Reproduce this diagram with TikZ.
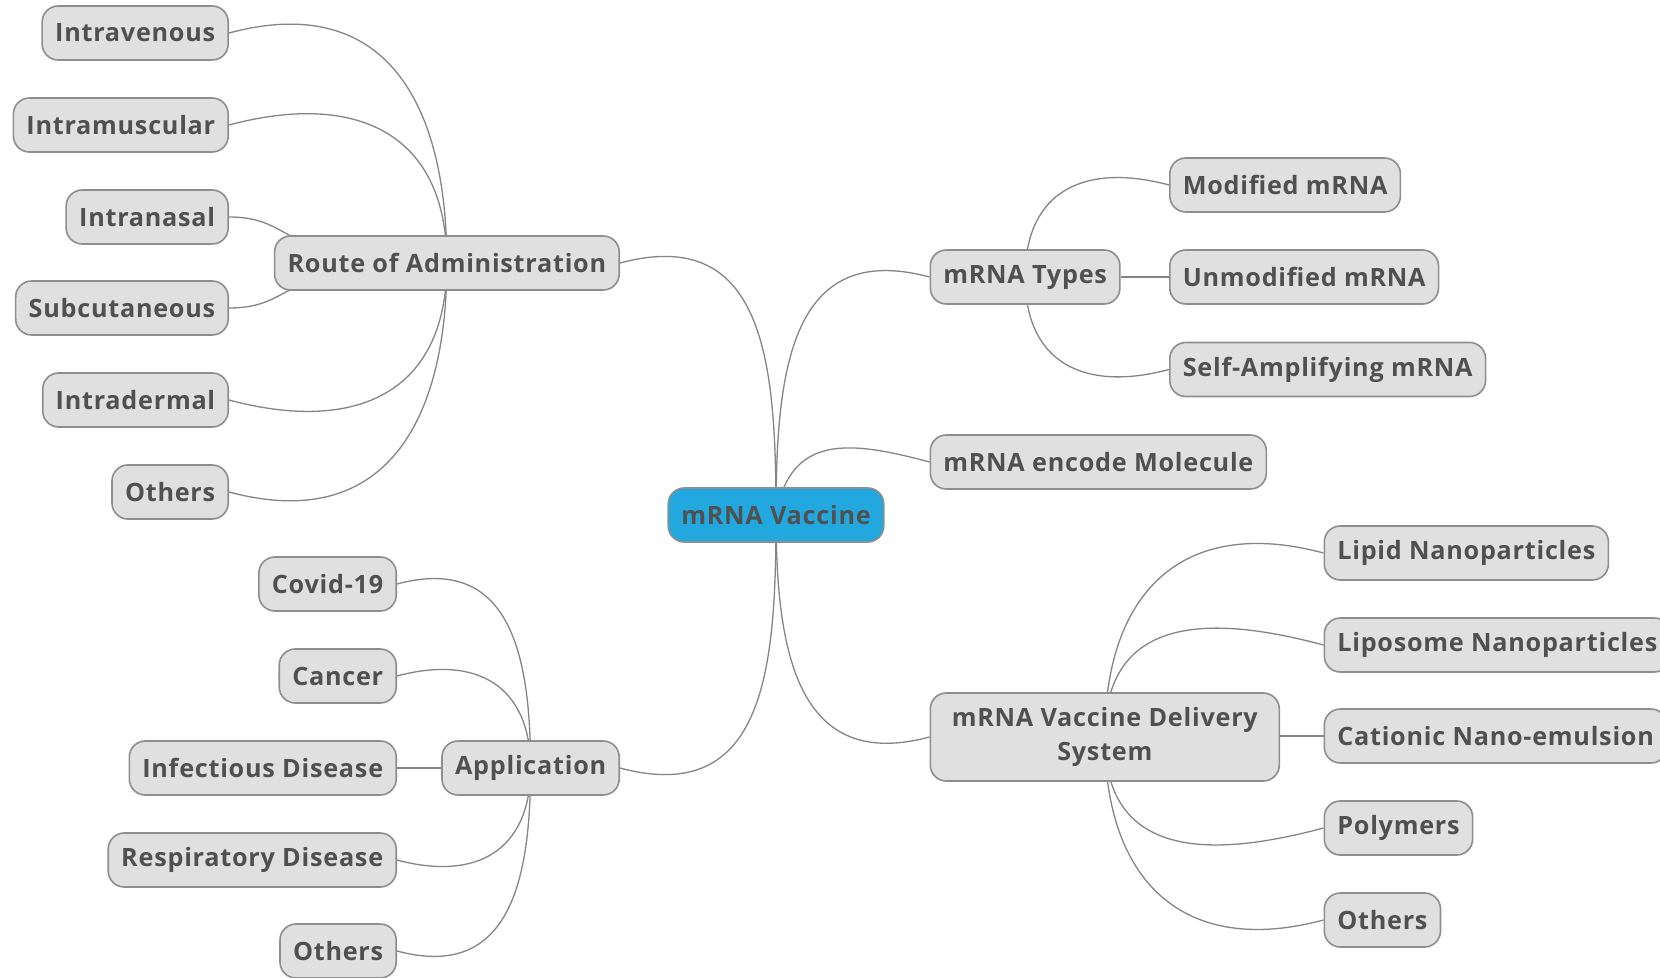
\documentclass[tikz,border=0pt]{standalone}
\usepackage{fontspec}
\setmainfont{Open Sans}[LetterSpace=3]
\usetikzlibrary{positioning,backgrounds}
\definecolor{boxfill}{HTML}{E0E0E0}
\definecolor{boxline}{HTML}{8E8E8E}
\definecolor{boxtext}{HTML}{505050}
\definecolor{rootfill}{HTML}{22A8DE}
\definecolor{wire}{HTML}{858585}

\begin{document}
\begin{tikzpicture}[
    x=0.5pt, y=-0.5pt,
    font=\bfseries\fontsize{12.6}{17}\selectfont,
    topic/.style={
		rectangle,
		rounded corners=8pt,
		draw=boxline,
		line width=0.8pt,
		fill=boxfill,
		text=boxtext,
		text centered,
		minimum height=27pt,
		inner xsep=6.5pt
	},
	root/.style={
		topic,
		fill=rootfill
	},
	link/.style={
		draw=wire,
		line width=0.65pt,
		looseness=1.3
	}
  ]
  \useasboundingbox (0,0) rectangle (1660,978);

    % the root and its five branches
  \node [root] (vaccine) at (776,515) {mRNA Vaccine};
  \node [topic, anchor=east] (route) at (620,263) {Route of Administration};
  \node [topic, anchor=east] (application) at (620,768) {Application};
  \node [topic, anchor=west] (types) at (929.5,277) {mRNA Types};
  \node [topic, anchor=west] (encode) at (929.5,462) {mRNA encode Molecule};
  \node [topic, anchor=west, align=center, minimum width=174.5pt, minimum height=44pt] (delivery) at (929.5,737)
 {mRNA Vaccine Delivery\\System};

    % leaves of the route
  \node [topic, anchor=east] (intravenous) at (229,33) {Intravenous};
  \node [topic, anchor=east] (intramuscular) at (229,125) {Intramuscular};
  \node [topic, anchor=east] (intranasal) at (229,217) {Intranasal};
  \node [topic, anchor=east] (subcutaneous) at (229,308) {Subcutaneous};
  \node [topic, anchor=east] (intradermal) at (229,400) {Intradermal};
  \node [topic, anchor=east] (otherroute) at (229,492) {Others};

    % leaves of the application
  \node [topic, anchor=east] (covid) at (397,584) {Covid-19};
  \node [topic, anchor=east] (cancer) at (397,676) {Cancer};
  \node [topic, anchor=east] (infectious) at (397,768) {Infectious Disease};
  \node [topic, anchor=east] (respiratory) at (397,860) {Respiratory Disease};
  \node [topic, anchor=east] (otherapp) at (397,951) {Others};

    % leaves of the types
  \node [topic, anchor=west] (modified) at (1169,185) {Modified mRNA};
  \node [topic, anchor=west] (unmodified) at (1169,277) {Unmodified mRNA};
  \node [topic, anchor=west] (selfamp) at (1169,369.5) {Self-Amplifying mRNA};

    % leaves of the delivery system
  \node [topic, anchor=west] (lipid) at (1323.5,553) {Lipid Nanoparticles};
  \node [topic, anchor=west] (liposome) at (1323.5,645) {Liposome Nanoparticles};
  \node [topic, anchor=west] (cationic) at (1323.5,736) {Cationic Nano-emulsion};
  \node [topic, anchor=west] (polymers) at (1323.5,828) {Polymers};
  \node [topic, anchor=west] (otherdelivery) at (1323.5,920) {Others};

  \begin{scope}[on background layer]
  \fill [white] (0,0) rectangle (1660,978);

  \draw [link] (vaccine.center) to [out=90, in=15] (route.east);
  \draw [link] (vaccine.center) to [out=-90, in=-15] (application.east);
  \draw [link] (vaccine.center) to [out=90, in=165] (types.west);
  \draw [link] (vaccine.center) to [out=80, in=165] (encode.west);
  \draw [link] (vaccine.center) to [out=-90, in=195] (delivery.west);

  \draw [link] (route.center) to [out=90, in=15] (intravenous.east);
  \draw [link] (route.center) to [out=90, in=15] (intramuscular.east);
  \draw [link] (route.center) to [out=180, in=0, out looseness=2, in looseness=0.8] (intranasal.east);
  \draw [link] (route.center) to [out=180, in=0, out looseness=2, in looseness=0.8] (subcutaneous.east);
  \draw [link] (route.center) to [out=-90, in=-15] (intradermal.east);
  \draw [link] (route.center) to [out=-90, in=-15] (otherroute.east);

  \draw [link] (application.center) to [out=90, in=15] (covid.east);
  \draw [link] (application.center) to [out=90, in=15] (cancer.east);
  \draw [link] (application) -- (infectious);
  \draw [link] (application.center) to [out=-90, in=-15] (respiratory.east);
  \draw [link] (application.center) to [out=-90, in=-15] (otherapp.east);

  \draw [link] (types.center) to [out=90, in=165] (modified.west);
  \draw [link] (types) -- (unmodified);
  \draw [link] (types.center) to [out=-90, in=195] (selfamp.west);

  \draw [link] (delivery.center) to [out=90, in=165] (lipid.west);
  \draw [link] (delivery.center) to [out=90, in=165] (liposome.west);
  \draw [link] (delivery.east |- cationic) -- (cationic);
  \draw [link] (delivery.center) to [out=-90, in=195] (polymers.west);
  \draw [link] (delivery.center) to [out=-90, in=195] (otherdelivery.west);
  \end{scope}

\end{tikzpicture}
\end{document}
